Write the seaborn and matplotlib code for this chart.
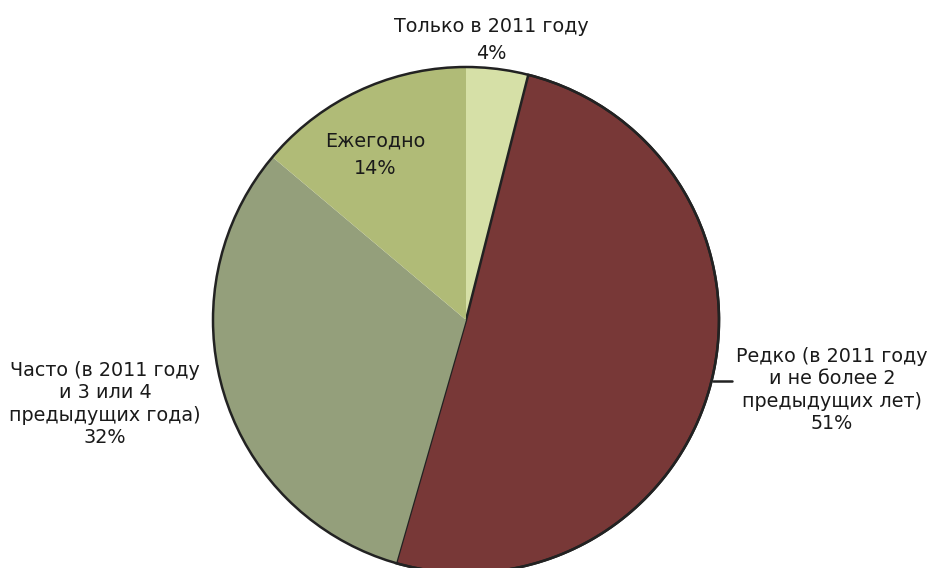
import matplotlib
matplotlib.use("Agg")
import matplotlib.pyplot as plt
import seaborn as sns
from matplotlib.patches import Circle

# Shares of respondents by frequency of participation
categories = [
    "Только в 2011 году",
    "Редко (в 2011 году\nи не более 2\nпредыдущих лет)",
    "Часто (в 2011 году\nи 3 или 4\nпредыдущих года)",
    "Ежегодно",
]
shares = [4, 51, 32, 14]
colors = ["#d6e0a7", "#783837", "#949f7b", "#b0bb77"]

sns.set_theme(style="white")
plt.rcParams["font.family"] = ["DejaVu Sans"]

W, H = 927, 568
fig = plt.figure(figsize=(W / 100, H / 100), dpi=100)
ax = fig.add_axes([0, 0, 1, 1])

cx, cy, r = 466, H - 320, 253
wedges, _ = ax.pie(
    shares,
    colors=colors,
    startangle=90,
    counterclock=False,
    center=(cx, cy),
    radius=r,
    frame=True,
    wedgeprops=dict(linewidth=0),
)
ax.set_xlim(0, W)
ax.set_ylim(0, H)
ax.axis("off")

# dark outline on the large slice and around the pie
wedges[1].set_edgecolor("#222222")
wedges[1].set_linewidth(1.8)
ax.add_patch(Circle((cx, cy), r, fill=False, edgecolor="#222222", linewidth=1.8, zorder=5))

txt = dict(fontsize=13.8, color="#1a1a1a", ha="center", va="center")
ax.text(491, H - 40, f"{categories[0]}\n{shares[0]}%", linespacing=1.55, **txt)
ax.text(375, H - 155, f"{categories[3]}\n{shares[3]}%", linespacing=1.55, **txt)
ax.text(832, H - 390, f"{categories[1]}\n{shares[1]}%", linespacing=1.22, **txt)
ax.text(105, H - 404, f"{categories[2]}\n{shares[2]}%", linespacing=1.22, **txt)

# leader line to the large slice label
ax.plot([713, 732], [H - 381, H - 381], color="#222222", linewidth=1.8, zorder=6)

fig.savefig("out.png", dpi=100)
